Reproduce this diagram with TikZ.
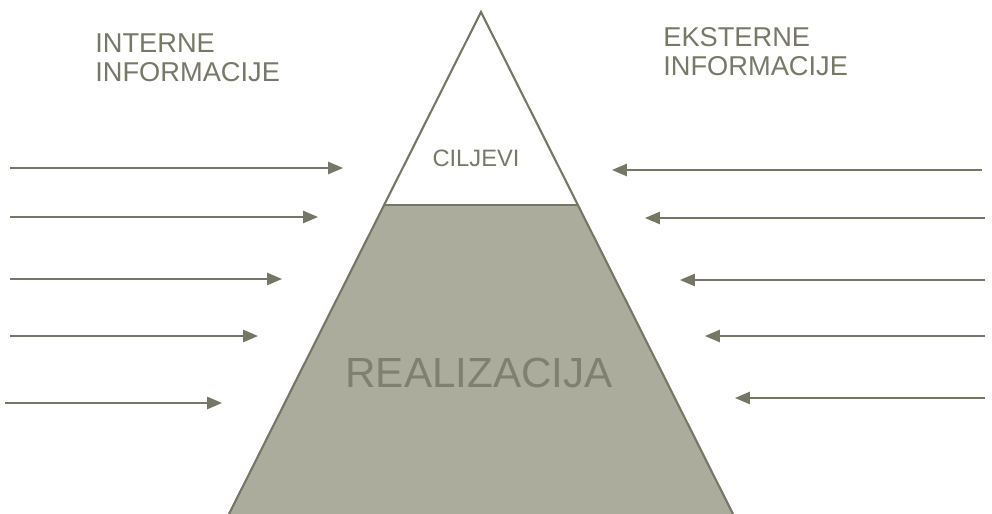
\documentclass[tikz,border=0pt]{standalone}
\usepackage{fontspec}
\setmainfont{Liberation Sans}
\usetikzlibrary{arrows.meta}
\definecolor{ink}{RGB}{118,118,102}
\definecolor{txt}{RGB}{120,120,104}
\definecolor{pyrfill}{RGB}{172,172,157}
\definecolor{pyrtxt}{RGB}{128,128,112}
\tikzset{
  info/.style={->, line width=1pt, ink},
  head/.style={txt, inner sep=0pt, anchor=north west, align=left,
    font=\fontsize{15.5}{16.8}\selectfont}
}
\begin{document}
\begin{tikzpicture}[x=0.02cm, y=-0.02cm, >={Triangle[length=8.5pt,width=7pt]}]
    % 1. Khung
    \useasboundingbox (0,0) rectangle (992,514);

    % 2. Cac diem piramide
    \coordinate (V) at (481,12);
    \coordinate (A) at (229,514);
    \coordinate (B) at (733,514);
    \coordinate (P) at (384,205);
    \coordinate (Q) at (578,205);

    % 3. Donji dio (realizacija)
    \fill[pyrfill] (P) -- (Q) -- (B) -- (A) -- cycle;
    \draw[ink, line width=1.2pt] (A) -- (V) -- (B);
    \draw[ink, line width=1.2pt] (P) -- (Q);

    % 4. Natpisi
    \node[txt, font=\fontsize{13.5}{15}\selectfont] (ciljevi) at (476,158) {CILJEVI};
    \node[pyrtxt, font=\fontsize{24}{26}\selectfont] (realizacija) at (479,373) {REALIZACIJA};
    \node[head] (interne) at (95,33) {INTERNE\\INFORMACIJE};
    \node[head] (eksterne) at (663,27) {EKSTERNE\\INFORMACIJE};

    % 5. Interne strelice
    \coordinate (L1a) at (10,168);  \coordinate (L1b) at (343,168);
    \coordinate (L2a) at (10,217);  \coordinate (L2b) at (318,217);
    \coordinate (L3a) at (10,279);  \coordinate (L3b) at (282,279);
    \coordinate (L4a) at (10,336);  \coordinate (L4b) at (258,336);
    \coordinate (L5a) at (5,403);   \coordinate (L5b) at (222,403);
    \draw[info] (L1a) -- (L1b);
    \draw[info] (L2a) -- (L2b);
    \draw[info] (L3a) -- (L3b);
    \draw[info] (L4a) -- (L4b);
    \draw[info] (L5a) -- (L5b);

    % 6. Eksterne strelice
    \coordinate (R1a) at (982,170); \coordinate (R1b) at (612,170);
    \coordinate (R2a) at (985,218); \coordinate (R2b) at (645,218);
    \coordinate (R3a) at (985,280); \coordinate (R3b) at (680,280);
    \coordinate (R4a) at (985,336); \coordinate (R4b) at (705,336);
    \coordinate (R5a) at (985,398); \coordinate (R5b) at (735,398);
    \draw[info] (R1a) -- (R1b);
    \draw[info] (R2a) -- (R2b);
    \draw[info] (R3a) -- (R3b);
    \draw[info] (R4a) -- (R4b);
    \draw[info] (R5a) -- (R5b);
\end{tikzpicture}
\end{document}
